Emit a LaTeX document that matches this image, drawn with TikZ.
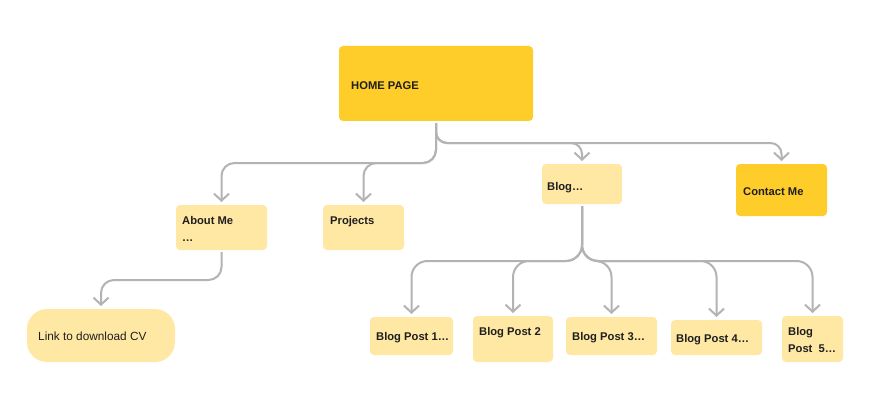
\documentclass[tikz,border=0pt]{standalone}
\usepackage{fontspec}
\setmainfont{Liberation Sans}
\usetikzlibrary{arrows.meta}
\definecolor{darky}{HTML}{FFCD29}
\definecolor{lighty}{HTML}{FFE8A3}
\definecolor{linec}{HTML}{B3B3B3}
\definecolor{txt}{HTML}{1E1E1E}
\begin{document}
\begin{tikzpicture}[x=1pt,y=-1pt,
  box/.style={inner sep=0pt, outer sep=0pt, anchor=north west, rounded corners=4pt},
  lightbox/.style={box, fill=lighty},
  darkbox/.style={box, fill=darky},
  lbl/.style={anchor=base west, inner sep=0pt, text=txt, font=\fontsize{11.2}{13}\selectfont\bfseries},
  reg/.style={anchor=base west, inner sep=0pt, text=txt, font=\fontsize{11.8}{14}\selectfont},
  conn/.style={draw=linec, line width=2pt, rounded corners=13pt,
    -{Straight Barb[length=7pt,width=15pt]}, shorten <=2pt, shorten >=3pt}]
\path[use as bounding box, fill=white] (0,0) rectangle (871,404);

% boxes
\node[darkbox, minimum width=194pt, minimum height=75pt] (home) at (339,46) {};
\node[lightbox, minimum width=91pt, minimum height=45pt] (about) at (176,205) {};
\node[lightbox, minimum width=81pt, minimum height=45pt] (projects) at (323,205) {};
\node[lightbox, minimum width=80pt, minimum height=40pt] (blog) at (542,164) {};
\node[darkbox, minimum width=91pt, minimum height=52pt] (contact) at (736,164) {};
\node[box, fill=lighty, rounded corners=20pt, minimum width=148pt, minimum height=53pt] (cv) at (27,309) {};
\node[lightbox, minimum width=83pt, minimum height=38pt] (bp1) at (370,317) {};
\node[lightbox, minimum width=80pt, minimum height=46pt] (bp2) at (473,316) {};
\node[lightbox, minimum width=91pt, minimum height=38pt] (bp3) at (566,317) {};
\node[lightbox, minimum width=91pt, minimum height=35pt] (bp4) at (671,320) {};
\node[lightbox, minimum width=61pt, minimum height=46pt] (bp5) at (782,316) {};

% labels
\node[lbl] (thome) at (351,89) {HOME PAGE};
\node[lbl] (tabout) at (182,224) {About Me};
\node[lbl] (tabout2) at (182,241) {…};
\node[lbl] (tproj) at (330,224) {Projects};
\node[lbl] (tblog) at (547,190) {Blog…};
\node[lbl] (tcontact) at (743,195) {Contact Me};
\node[reg] (tcv) at (38,340) {Link to download CV};
\node[lbl] (tbp1) at (376,340) {Blog Post 1…};
\node[lbl] (tbp2) at (479,335) {Blog Post 2};
\node[lbl] (tbp3) at (572,340) {Blog Post 3…};
\node[lbl] (tbp4) at (676,342.7) {Blog Post 4…};
\node[lbl] (tbp5a) at (788,335) {Blog};
\node[lbl] (tbp5b) at (788,352.7) {Post\ \ 5…};

% junction levels
\coordinate (hL) at (0,163);
\coordinate (hR) at (0,143);
\coordinate (bH) at (0,261);
\coordinate (aH) at (0,280);

% connectors
\draw[conn] (home.south) -- (home.south |- hL) -| (about.north);
\draw[conn] (home.south) -- (home.south |- hL) -| (projects.north);
\draw[conn, rounded corners=11pt] (home.south) -- (home.south |- hR) -| (blog.north);
\draw[conn, rounded corners=11pt] (home.south) -- (home.south |- hR) -| (contact.north);
\draw[conn] (about.south) -- (about.south |- aH) -| (cv.north);
\draw[conn, rounded corners=16pt] (blog.south) -- (blog.south |- bH) -| (bp1.north);
\draw[conn, rounded corners=16pt] (blog.south) -- (blog.south |- bH) -| (bp2.north);
\draw[conn, rounded corners=16pt] (blog.south) -- (blog.south |- bH) -| (bp3.north);
\draw[conn, rounded corners=16pt] (blog.south) -- (blog.south |- bH) -| (bp4.north);
\draw[conn, rounded corners=16pt] (blog.south) -- (blog.south |- bH) -| (bp5.north);
\end{tikzpicture}
\end{document}
